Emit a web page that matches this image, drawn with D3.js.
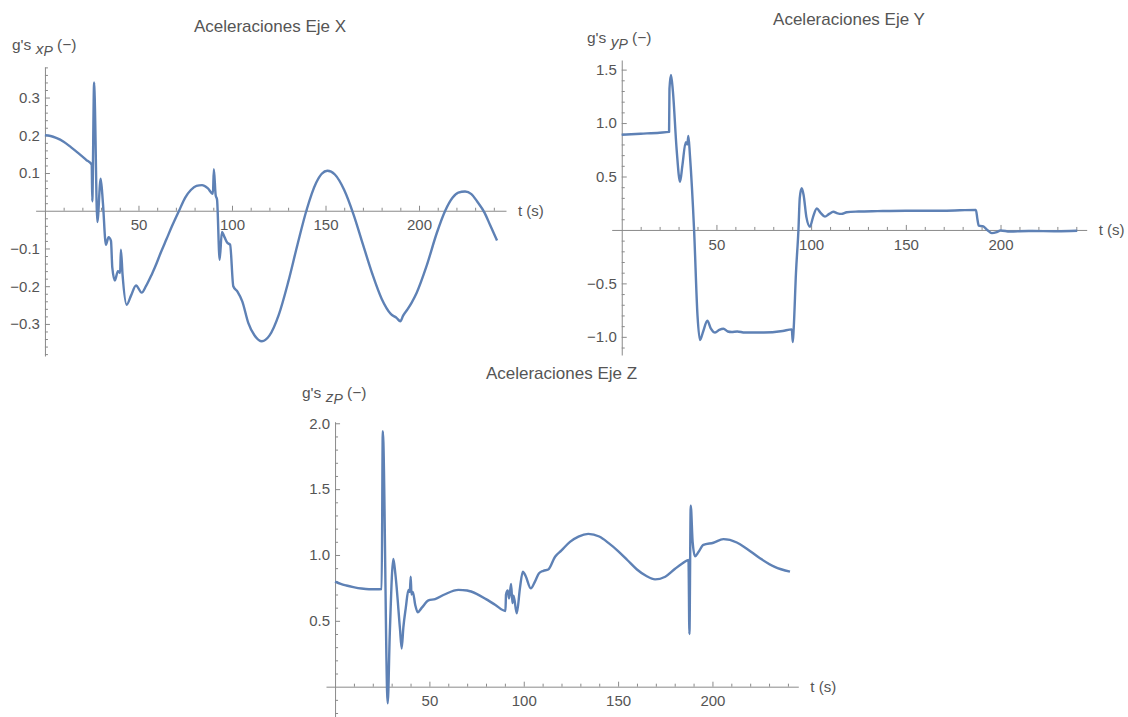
<!DOCTYPE html>
<html>
<head>
<meta charset="utf-8">
<script src="https://cdn.jsdelivr.net/npm/d3@7"></script>
<style>
  html, body { margin: 0; padding: 0; background: #fff; }
  svg { display: block; }
  text { font-family: "Liberation Sans", Arial, sans-serif; }
</style>
</head>
<body>
<svg id="chart" width="1128" height="717"></svg>
<script>
// ---------- DATA ----------
const titles = ["Aceleraciones Eje X", "Aceleraciones Eje Y", "Aceleraciones Eje Z"];
const axisVars = ["x", "y", "z"];
const xAxisLabel = "t (s)";
const xTicks = [50, 100, 150, 200];

const yTicksX = [-0.3, -0.2, -0.1, 0.1, 0.2, 0.3];
const yTicksY = [-1.0, -0.5, 0.5, 1.0, 1.5];
const yTicksZ = [0.5, 1.0, 1.5, 2.0];

const tX = [0,3,6,10,14,18,22,25,25.3,26.3,26.6,28,29.8,31,32.6,34,35.3,36,37.4,39,40.2,40.6,41.5,43.7,46,48.7,51.7,54,57,58.8,62,65,68,71.7,75,78,81,84,87,89.8,90.3,91.3,92,93.4,94.6,96,97.5,99,100.7,103,105.5,108.7,112,116,120,125,130,135,140,145,148,151,155,160,165,170,175,180,185,188,190,191.5,194,196,198.7,204,209.5,214,218,221,224.6,228,231,235,238,241.7];
const gX = [0.200,0.198,0.193,0.183,0.168,0.152,0.135,0.122,0.025,0.34,0.30,-0.03,0.085,0.02,-0.09,-0.07,-0.08,-0.15,-0.185,-0.16,-0.165,-0.103,-0.17,-0.249,-0.225,-0.198,-0.217,-0.2,-0.17,-0.15,-0.11,-0.075,-0.04,0,0.035,0.055,0.066,0.068,0.06,0.045,0.11,0.04,0.03,-0.13,-0.056,-0.07,-0.085,-0.09,-0.2,-0.215,-0.24,-0.297,-0.33,-0.346,-0.331,-0.276,-0.19,-0.09,0.004,0.074,0.098,0.106,0.096,0.055,-0.01,-0.089,-0.167,-0.233,-0.274,-0.284,-0.293,-0.278,-0.26,-0.244,-0.218,-0.147,-0.059,0,0.035,0.048,0.051,0.044,0.025,-0.005,-0.038,-0.079];

const tY = [0,10,20,25,25.2,26,27,29,30.8,32,33.8,34.6,35.2,36,38.2,40,41.3,43,45.2,47,49.3,51.5,53.7,56,58,61,65,75,85,89.8,90.3,90.8,92,93.3,94,95,96,97.5,99.4,101,103,105,107.3,109.5,111.7,114,116,118.8,125,135,150,170,187,187.8,188.5,190.6,193,195.4,198,200,205,215,230,240.5];
const gY = [0.89,0.9,0.91,0.917,1.32,1.45,1.3,0.75,0.45,0.6,0.82,0.8,0.88,0.7,0,-0.8,-1.03,-0.95,-0.85,-0.92,-0.96,-0.935,-0.925,-0.95,-0.955,-0.95,-0.96,-0.96,-0.945,-0.93,-1.05,-0.92,-0.4,0,0.3,0.39,0.33,0.12,0.03,0.12,0.2,0.16,0.125,0.15,0.17,0.155,0.15,0.166,0.172,0.176,0.18,0.18,0.188,0.1,0.04,0.035,0.0,-0.03,-0.02,-0.005,-0.015,-0.01,-0.012,-0.008];

const tZ = [0,3,6,9.7,14,18,22,24.7,25.3,27.9,29,30.9,32,34.4,35.3,36.2,37.5,38.9,39.6,40.1,40.5,41.2,42.5,43.8,46,49.5,53,58,65.4,70,75,80,85,90.3,90.6,91.5,92.2,93.3,94,94.6,96.3,98,99.5,101,103.7,106,108,110.4,113,116.6,120,124.5,129,134.2,140,145,150,155,160,165,169.6,175,180.2,184,187.3,187.8,188.5,189.5,190.8,192.5,195.2,200.5,205.8,212.9,218,225.2,233,241.1];
const gZ = [0.797,0.78,0.768,0.756,0.745,0.74,0.74,0.742,1.94,-0.126,0.4,0.97,0.85,0.44,0.29,0.45,0.6,0.734,0.72,0.835,0.7,0.72,0.62,0.565,0.6,0.655,0.665,0.7,0.735,0.73,0.705,0.665,0.62,0.575,0.7,0.73,0.67,0.78,0.635,0.69,0.557,0.75,0.873,0.84,0.747,0.8,0.86,0.88,0.89,0.987,1.035,1.1,1.14,1.16,1.14,1.09,1.03,0.96,0.89,0.84,0.815,0.835,0.895,0.935,0.962,0.4,1.375,1.1,0.99,1.02,1.076,1.093,1.12,1.095,1.05,0.975,0.91,0.873];

// ---------- LAYOUT ----------
const LINE = "#5E81B5", AXIS = "#8a8a8a", TXT = "#555";
const svg = d3.select("#chart");
const fmt = d => d.toFixed(1).replace("-", "\u2212");

const panels = [
  { t: tX, g: gX, title: titles[0], v: axisVars[0], yTicks: yTicksX, minorY: 0.02,
    xd: [-5, 246.5], xr: [35.6, 506], yd: [-0.385, 0.381], yr: [356, 67],
    titlePos: [270, 32], labelPos: [12, 50] },
  { t: tY, g: gY, title: titles[1], v: axisVars[1], yTicks: yTicksY, minorY: 0.1,
    xd: [-5.3, 245.5], xr: [611.7, 1086.7], yd: [-1.17, 1.59], yr: [355, 60],
    titlePos: [849, 25], labelPos: [587, 43] },
  { t: tZ, g: gZ, title: titles[2], v: axisVars[2], yTicks: yTicksZ, minorY: 0.1,
    xd: [-4.8, 245.5], xr: [326, 798.3], yd: [-0.25, 2.012], yr: [719.6, 421.7],
    titlePos: [561.5, 379], labelPos: [302, 398] }
];

panels.forEach(p => {
  const x = d3.scaleLinear().domain(p.xd).range(p.xr);
  const y = d3.scaleLinear().domain(p.yd).range(p.yr);
  const g = svg.append("g");
  const x0 = x(0), y0 = y(0);

  // minor ticks
  const minorX = d3.range(10, p.xd[1], 10).filter(v => v % 50 !== 0);
  const minorYv = [];
  for (let k = Math.ceil(p.yd[0] / p.minorY); k * p.minorY <= p.yd[1]; k++) {
    const v = +(k * p.minorY).toFixed(4);
    if (v !== 0 && !p.yTicks.some(tk => Math.abs(tk - v) < 1e-6)) minorYv.push(v);
  }

  const gx = g.append("g").attr("transform", `translate(0,${y0})`);
  gx.call(d3.axisBottom(x).tickValues(xTicks).tickFormat(d3.format("d"))
      .tickSize(-5).tickSizeOuter(0).tickPadding(9));
  gx.append("g").call(d3.axisBottom(x).tickValues(minorX).tickFormat("")
      .tickSize(-3).tickSizeOuter(0)).select(".domain").remove();

  const gy = g.append("g").attr("transform", `translate(${x0},0)`);
  gy.call(d3.axisLeft(y).tickValues(p.yTicks).tickFormat(fmt)
      .tickSize(-5).tickSizeOuter(0).tickPadding(5));
  gy.append("g").call(d3.axisLeft(y).tickValues(minorYv).tickFormat("")
      .tickSize(-3).tickSizeOuter(0)).select(".domain").remove();

  g.selectAll(".domain").attr("stroke", AXIS);
  g.selectAll(".tick line").attr("stroke", AXIS);
  g.selectAll(".tick text").attr("fill", TXT).style("font-size", "15px")
    .style("font-family", '"Liberation Sans", Arial, sans-serif');

  // x axis label
  g.append("text").attr("x", p.xr[1] + 12).attr("y", y0).attr("dy", "0.35em")
    .attr("fill", TXT).style("font-size", "15px").text(xAxisLabel);

  // y axis label  g's x_P (-)
  const lab = g.append("text").attr("x", p.labelPos[0]).attr("y", p.labelPos[1])
    .attr("fill", TXT).style("font-size", "15.5px");
  lab.append("tspan").text("g's ");
  lab.append("tspan").attr("dy", 4).style("font-style", "italic").text(p.v);
  lab.append("tspan").attr("dy", 2).style("font-style", "italic").style("font-size", "14px").text("P");
  lab.append("tspan").attr("dy", -6).text(" (\u2212)");

  // title
  g.append("text").attr("x", p.titlePos[0]).attr("y", p.titlePos[1])
    .attr("text-anchor", "middle").attr("fill", TXT).style("font-size", "17px").text(p.title);

  // line
  const line = d3.line().x(d => x(d[0])).y(d => y(d[1])).curve(d3.curveMonotoneX);
  g.append("path").datum(p.t.map((tv, i) => [tv, p.g[i]]))
    .attr("d", line).attr("fill", "none").attr("stroke", LINE)
    .attr("stroke-width", 2.4).attr("stroke-linejoin", "round");
});
</script>
</body>
</html>
